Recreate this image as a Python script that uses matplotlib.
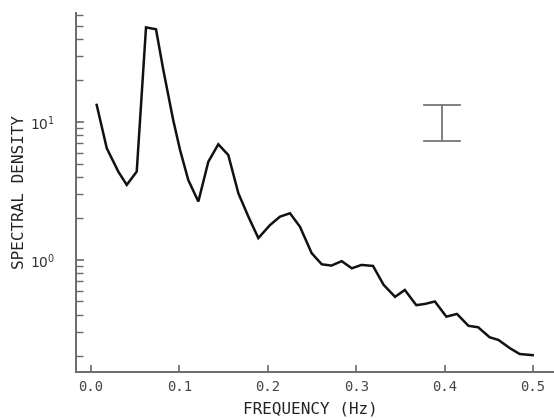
import numpy as np
import matplotlib
matplotlib.use("Agg")
import matplotlib.pyplot as plt
from matplotlib.ticker import LogLocator, FixedLocator, FixedFormatter, NullFormatter

plt.rcParams['font.family'] = ['DejaVu Sans Mono', 'DejaVu Sans']
plt.rcParams['mathtext.fontset'] = 'dejavusans'

# spectrum
freq = [0.0064, 0.0178, 0.031, 0.0404, 0.0517, 0.0622, 0.0735, 0.0818, 0.093, 0.1007,
        0.110, 0.1214, 0.1327, 0.144, 0.1553, 0.1667, 0.178, 0.1893, 0.2025, 0.2138,
        0.2251, 0.2364, 0.2496, 0.261, 0.272, 0.2836, 0.295, 0.306, 0.319, 0.331,
        0.344, 0.355, 0.368, 0.378, 0.389, 0.402, 0.414, 0.427, 0.438, 0.451,
        0.461, 0.474, 0.485, 0.4997]
density = [13.3, 6.45, 4.35, 3.5, 4.37, 48.5, 47, 23.8, 10.3, 6.27,
           3.8, 2.65, 5.15, 6.89, 5.76, 3.04, 2.06, 1.44, 1.79, 2.06,
           2.18, 1.74, 1.12, 0.93, 0.91, 0.98, 0.87, 0.92, 0.905, 0.66,
           0.54, 0.606, 0.47, 0.48, 0.50, 0.388, 0.406, 0.333, 0.325, 0.275,
           0.263, 0.229, 0.208, 0.204]

# confidence bar
ci_freq = 0.397
ci_low = 7.3
ci_high = 13.3

xticks = [0.0, 0.1, 0.2, 0.3, 0.4, 0.5]
xticklabels = ['0.0', '0.1', '0.2', '0.3', '0.4', '0.5']
yticks = [1, 10]
yticklabels = [r'$10^{0}$', r'$10^{1}$']

axis_col = '#6a6a6a'

fig = plt.figure(figsize=(5.54, 4.18), dpi=100)
ax = fig.add_axes([0.1372, 0.11, 0.8628, 0.859])

ax.plot(freq, density, color='#111111', lw=1.8, solid_joinstyle='miter')

ax.plot([ci_freq, ci_freq], [ci_low, ci_high], color='#777777', lw=1.3)
ax.plot([ci_freq - 0.02, ci_freq + 0.02], [ci_high, ci_high], color='#777777', lw=1.3)
ax.plot([ci_freq - 0.02, ci_freq + 0.02], [ci_low, ci_low], color='#777777', lw=1.3)

ax.set_yscale('log')
ax.set_xlim(-0.017, 0.5238)
ax.set_ylim(0.154, 61.7)

ax.xaxis.set_major_locator(FixedLocator(xticks))
ax.xaxis.set_major_formatter(FixedFormatter(xticklabels))
ax.yaxis.set_major_locator(FixedLocator(yticks))
ax.yaxis.set_major_formatter(FixedFormatter(yticklabels))
ax.yaxis.set_minor_locator(LogLocator(base=10, subs=np.arange(2, 10)))
ax.yaxis.set_minor_formatter(NullFormatter())

for side in ['top', 'right']:
    ax.spines[side].set_visible(False)
for side in ['left', 'bottom']:
    ax.spines[side].set_color(axis_col)
    ax.spines[side].set_linewidth(1.4)

ax.tick_params(axis='y', which='major', direction='in', length=6, width=1.2,
               color=axis_col, labelcolor='#333333', labelsize=10, pad=15)
ax.tick_params(axis='y', which='minor', direction='in', length=5, width=1.0,
               color=axis_col)
ax.tick_params(axis='x', which='major', direction='in', length=5, width=1.2,
               color=axis_col, labelcolor='#444444', labelsize=10, pad=6)

ax.set_xlabel('FREQUENCY (Hz)', fontsize=11.5, color='#222222')
ax.set_ylabel('SPECTRAL DENSITY', fontsize=11.5, color='#222222')
ax.xaxis.set_label_coords(0.49, -0.081)
ax.yaxis.set_label_coords(-0.102, 0.5)

fig.savefig('out.png', dpi=100)
